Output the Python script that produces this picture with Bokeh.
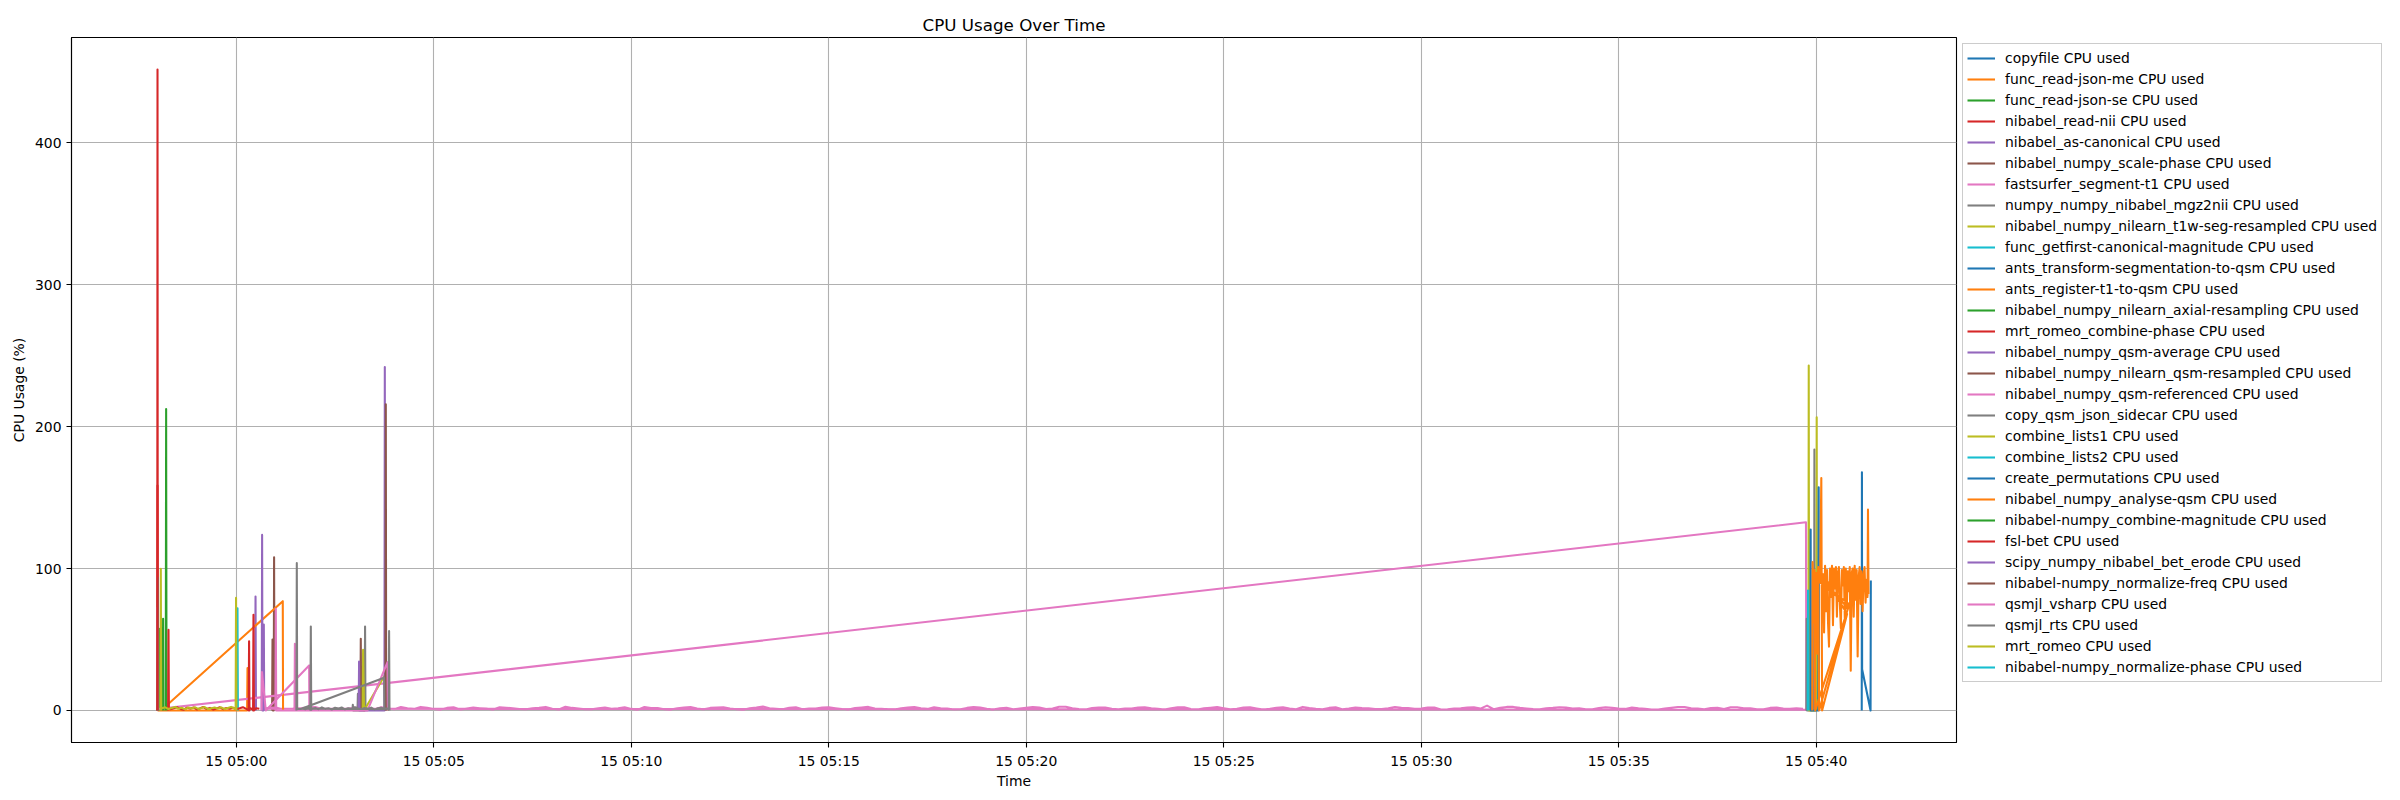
import pandas as pd
from bokeh.plotting import figure
from bokeh.models import (ColumnDataSource, Range1d, Legend, LegendItem, FixedTicker,
                          DatetimeTickFormatter)
from bokeh.palettes import Category10_10
from bokeh.embed import file_html
from bokeh.resources import INLINE

DAY = "2024-05-15"
TITLE = "CPU Usage Over Time"
X_LABEL = "Time"
Y_LABEL = "CPU Usage (%)"
X_TICKS = ["05:00", "05:05", "05:10", "05:15", "05:20", "05:25", "05:30", "05:35", "05:40"]
Y_TICKS = [0, 100, 200, 300, 400]

# ---------------- data (time of sample, CPU %) ----------------
copyfile_t = ["04:58:00.0", "04:58:00.5", "04:58:01.0"]
copyfile_v = [0, 3, 0]

read_json_me_t = ["04:58:00.1", "04:58:00.7", "04:58:01.3", "05:00:16.4", "05:00:17.0", "05:00:17.6"]
read_json_me_v = [0, 84.5, 0, 0, 29.8, 0]

read_json_se_t = ["04:58:02.0", "04:58:02.7", "04:58:03.4"]
read_json_se_v = [0, 57.5, 0]

read_nii_t = ["04:57:59.9", "04:58:00.3", "04:58:00.9"]
read_nii_v = [0, 158.5, 0]

as_canonical_t = ["05:00:28.5", "05:00:29.2", "05:00:29.9"]
as_canonical_v = [0, 80.3, 0]

scale_phase_t = ["05:00:54.4", "05:00:55.0", "05:00:55.6", "05:00:56.8", "05:00:57.4", "05:00:58.0"]
scale_phase_v = [0, 50, 0, 0, 108, 0]

fastsurfer_head_t = ["04:57:59.8", "04:58:00.6", "05:39:44.5", "05:39:45.0"]
fastsurfer_head_v = [72.8, 1.0, 132.6, 0.5]
fastsurfer_noise_start = "05:00:40"
fastsurfer_noise_step = 10
fastsurfer_noise_v = [
    1.2, 1.8, 2.1, 0.9, 0.8, 1.5, 1.7, 2.3, 2.4, 1.0,
    1.1, 0.5, 0.6, 1.4, 1.9, 2.2, 1.4, 0.8, 2.2, 1.6,
    0.9, 2.4, 1.6, 1.1, 2.5, 1.9, 1.0, 0.6, 1.8, 2.3,
    0.7, 1.3, 2.0, 1.6, 1.3, 0.7, 2.3, 1.9, 1.5, 1.0,
    0.8, 1.6, 1.9, 2.5, 1.2, 0.7, 2.6, 1.8, 1.4, 0.9,
    0.9, 1.5, 2.1, 1.2, 1.6, 2.2, 1.1, 0.6, 2.4, 1.7,
    1.7, 0.9, 0.6, 1.5, 2.0, 2.4, 1.3, 0.8, 1.8, 2.1,
    2.2, 1.4, 0.9, 0.5, 1.5, 2.0, 2.7, 1.6, 1.2, 0.8,
    1.9, 2.3, 0.8, 1.3, 1.4, 2.0, 2.3, 1.6, 1.0, 0.6,
    1.7, 2.1, 2.5, 1.4, 1.1, 0.8, 0.7, 1.5, 2.0, 2.4,
    1.6, 1.1, 2.2, 1.5, 1.3, 0.7, 0.9, 1.8, 2.4, 2.0,
    1.2, 0.6, 1.5, 1.9, 0.8, 1.3, 1.8, 2.4, 2.1, 1.0,
    1.4, 2.6, 2.6, 1.5, 1.0, 0.7, 1.7, 2.1, 2.0, 1.2,
    0.9, 1.4, 1.3, 2.0, 2.3, 1.6, 1.1, 0.6, 1.6, 2.2,
    2.2, 1.0, 0.7, 1.5, 1.9, 2.4, 1.6, 0.9, 1.1, 2.0,
    2.2, 1.4, 0.7, 1.1, 1.9, 2.3, 1.4, 0.8, 2.5, 1.7,
    1.2, 0.9, 1.8, 2.2, 0.9, 1.4, 2.1, 1.7, 1.5, 1.0,
    1.0, 1.6, 2.4, 1.9, 1.7, 1.2, 1.3, 2.0, 2.0, 0.7,
    0.8, 1.4, 1.6, 2.1, 2.2, 1.3, 3.4, 0.9, 1.9, 2.5,
    2.5, 1.8, 1.4, 1.0, 0.9, 1.6, 1.8, 2.3, 2.0, 1.4,
    1.5, 0.9, 0.8, 1.7, 2.3, 1.9, 1.4, 1.1, 2.1, 1.5,
    1.1, 0.7, 0.7, 1.3, 1.9, 2.4, 2.4, 1.5, 1.3, 0.8,
    1.7, 1.9, 1.0, 2.2, 2.2, 1.6, 1.5, 0.9, 0.9, 1.8,
    2.0, 1.3, 1.2, 1.6, 1.1]

mgz2nii_t = ["05:39:45.1", "05:39:45.6", "05:39:46.1", "05:39:56.8", "05:39:57.3", "05:39:57.8"]
mgz2nii_v = [0, 64.6, 0, 0, 183.8, 0]

t1w_seg_t = ["05:39:48.2", "05:39:48.7", "05:39:49.2", "05:40:00.3", "05:40:00.8", "05:40:01.3"]
t1w_seg_v = [0, 243, 0, 0, 206.6, 0]

getfirst_mag_t = ["04:58:00.3", "04:58:00.8", "04:58:01.3"]
getfirst_mag_v = [0, 93.4, 0]

ants_transform_t = ["05:39:51.1", "05:39:51.6", "05:39:52.1", "05:40:03.3", "05:40:03.8", "05:40:04.3"]
ants_transform_v = [0, 127.5, 0, 0, 157.3, 0]

ants_register_t = ["04:58:16.0", "04:58:17.0", "05:01:10.6", "05:01:11.0"]
ants_register_v = [0, 4.7, 77, 0]

axial_resampling_t = ["04:58:08.2", "04:58:08.8", "04:58:09.4"]
axial_resampling_v = [0, 64.6, 0]

romeo_combine_phase_t = ["04:57:59.9", "04:58:00.3", "04:58:00.7"]
romeo_combine_phase_v = [0, 451.6, 0]

qsm_average_t = ["05:00:38.6", "05:00:39.2", "05:00:39.8", "05:00:41.2", "05:00:41.8", "05:00:42.4"]
qsm_average_v = [0, 123.7, 0, 0, 60.6, 0]

qsm_resampled_t = ["05:03:08.5", "05:03:09.1", "05:03:09.7"]
qsm_resampled_v = [0, 50.5, 0]

qsm_referenced_t = ["05:00:38.4", "05:00:39.0", "05:00:44.8", "05:01:50.6", "05:01:51.0"]
qsm_referenced_v = [0, 27, 0, 31.7, 0]

copy_sidecar_t = ["05:02:56.4", "05:02:57.0", "05:02:57.6", "05:03:04.1", "05:03:04.7",
                  "05:03:05.3", "05:03:15.0", "05:03:15.6", "05:03:16.2"]
copy_sidecar_v = [0, 4, 0, 0, 11.7, 0, 0, 59.2, 0]

combine_lists1_t = ["05:03:12.0", "05:03:12.6", "05:03:14.0", "05:03:49.7", "05:03:50.2"]
combine_lists1_v = [0, 42.7, 0, 28, 0]

combine_lists2_t = ["05:00:01.2", "05:00:01.8", "05:00:02.4"]
combine_lists2_v = [0, 72, 0]

create_perm_t = ["05:41:09.2", "05:41:09.5", "05:41:09.8", "05:41:22.6", "05:41:23.0"]
create_perm_v = [0, 167.8, 29, 0, 91.5]

analyse_qsm_t = [
    "05:39:54.0", "05:39:54.6", "05:39:56.0", "05:39:57.5", "05:39:58.5", "05:40:48.5",
    "05:40:00.0", "05:40:01.5", "05:40:03.0", "05:40:04.5", "05:40:50.0", "05:40:06.0",
    "05:40:07.8", "05:40:09.0", "05:40:47.0", "05:40:10.5", "05:40:12.0", "05:40:13.5",
    "05:40:15.0", "05:40:16.5", "05:40:18.0", "05:40:19.5", "05:40:21.0", "05:40:22.5",
    "05:40:24.0", "05:40:25.5", "05:40:27.0", "05:40:28.5", "05:40:30.0", "05:40:31.5",
    "05:40:33.0", "05:40:34.5", "05:40:36.0", "05:40:37.5", "05:40:39.0", "05:40:40.5",
    "05:40:42.0", "05:40:43.5", "05:40:45.0", "05:40:46.5", "05:40:48.0", "05:40:49.5",
    "05:40:51.0", "05:40:52.5", "05:40:54.0", "05:40:55.5", "05:40:57.0", "05:40:58.5",
    "05:41:00.0", "05:41:01.5", "05:41:03.0", "05:41:04.5", "05:41:06.0", "05:41:07.5",
    "05:41:09.0", "05:41:10.5", "05:41:12.0", "05:41:13.5", "05:41:15.0", "05:41:16.5",
    "05:41:18.0", "05:41:18.7", "05:41:19.5"]
analyse_qsm_v = [
    0, 104.5, 62, 99, 0, 72,
    97, 40, 101, 0, 75, 90,
    163.8, 0, 68, 96, 55, 102,
    70, 99, 62, 45, 100, 80,
    102, 60, 100, 86, 101, 66,
    97, 101, 75, 58, 99, 88,
    101, 63, 100, 72, 98, 84,
    101, 28, 97, 100, 66, 102,
    78, 99, 38, 94, 101, 75,
    98, 70, 95, 101, 76, 92,
    80, 141.5, 82]

combine_magnitude_t = ["04:58:12.8", "04:58:13.4", "04:58:14.0"]
combine_magnitude_v = [0, 212.4, 0]

fsl_bet_t = ["04:58:16.4", "04:58:17.0", "04:58:17.6", "05:00:18.8", "05:00:19.4", "05:00:20.0",
             "05:00:25.5", "05:00:26.1", "05:00:26.7"]
fsl_bet_v = [0, 56.8, 1, 0, 48.8, 0, 0, 67.4, 0]
fsl_bet_noise_start = "04:58:20"
fsl_bet_noise_step = 5
fsl_bet_noise_v = [0.8, 1.6, 2.3, 1.1, 0.5, 1.9, 1.3, 2.1, 0.7, 1.5, 2.4, 1.0, 1.8, 0.6,
                   1.4, 2.2, 0.9, 1.7, 1.2, 2.0, 0.8, 1.5, 2.3, 1.1, 1.9, 0.7, 1.6, 1.2]

bet_erode_t = ["05:03:05.9", "05:03:06.5", "05:03:07.1", "05:03:45.0", "05:03:45.6", "05:03:46.2"]
bet_erode_v = [0, 34.5, 0, 0, 242, 0]

normalize_freq_t = ["05:03:46.5", "05:03:47.1", "05:03:47.7"]
normalize_freq_v = [0, 215.7, 0]

vsharp_t = ["05:00:59.4", "05:01:00.0", "05:01:00.6", "05:01:28.4", "05:01:29.0", "05:01:29.6",
            "05:03:19.3", "05:03:49.7", "05:03:50.2"]
vsharp_v = [0, 71.6, 0, 0, 47, 0, 0, 34, 0]

rts_head_t = ["05:01:31.3", "05:01:31.9", "05:01:32.5", "05:01:38.0", "05:03:44.5", "05:03:45.0"]
rts_head_v = [0, 103.8, 1.2, 1.0, 23, 0.8]
rts_t = ["05:01:52.6", "05:01:53.2", "05:01:53.8", "05:03:51.5", "05:03:52.1", "05:03:52.7"]
rts_v = [0.5, 59.2, 0.5, 0.5, 56, 0]
rts_noise_start = "05:01:40"
rts_noise_step = 5
rts_noise_v = [1.4, 0.8, 2.0, 1.2, 1.7, 0.9, 2.2, 1.1, 1.5, 0.7, 1.9, 1.3, 2.1, 0.8,
               1.6, 1.0, 2.3, 1.4, 0.9, 1.8, 1.2, 2.0, 0.6, 1.5, 1.9, 1.1, 1.4]

romeo_t = ["04:58:04.7", "04:58:05.3", "04:58:05.9", "04:59:59.0", "04:59:59.6", "05:00:00.2"]
romeo_v = [0, 99.8, 1, 1, 79.3, 0]
romeo_noise_start = "04:58:07"
romeo_noise_step = 5
romeo_noise_v = [1.5, 2.2, 1.0, 1.8, 2.5, 1.2, 1.9, 0.8, 2.1, 1.4, 2.3, 1.1, 1.7, 2.4,
                 0.9, 1.6, 2.0, 1.3, 2.2, 1.0, 1.8, 2.5, 1.4]

normalize_phase_t = ["05:39:47.1", "05:39:47.6", "05:39:48.1"]
normalize_phase_v = [0, 84.5, 0]

# ---------------- helpers ----------------
EPOCH = pd.Timestamp("1970-01-01")


def to_ms(t):
    return (t - EPOCH) / pd.Timedelta(milliseconds=1)


def stamp(s):
    return pd.Timestamp(f"{DAY} {s}")


def build(body_t=(), body_v=(), head_t=(), head_v=(), noise=None):
    head = [(stamp(t), v) for t, v in zip(head_t, head_v)]
    body = [(stamp(t), v) for t, v in zip(body_t, body_v)]
    if noise is not None:
        start, step, vals = noise
        t0 = stamp(start)
        body += [(t0 + pd.Timedelta(seconds=step * i), v) for i, v in enumerate(vals)]
    body.sort(key=lambda p: p[0])
    pts = head + body
    return [to_ms(t) for t, _ in pts], [v for _, v in pts]


series = [
    ("copyfile", build(copyfile_t, copyfile_v)),
    ("func_read-json-me", build(read_json_me_t, read_json_me_v)),
    ("func_read-json-se", build(read_json_se_t, read_json_se_v)),
    ("nibabel_read-nii", build(read_nii_t, read_nii_v)),
    ("nibabel_as-canonical", build(as_canonical_t, as_canonical_v)),
    ("nibabel_numpy_scale-phase", build(scale_phase_t, scale_phase_v)),
    ("fastsurfer_segment-t1", build(head_t=fastsurfer_head_t, head_v=fastsurfer_head_v,
                                    noise=(fastsurfer_noise_start, fastsurfer_noise_step, fastsurfer_noise_v))),
    ("numpy_numpy_nibabel_mgz2nii", build(mgz2nii_t, mgz2nii_v)),
    ("nibabel_numpy_nilearn_t1w-seg-resampled", build(t1w_seg_t, t1w_seg_v)),
    ("func_getfirst-canonical-magnitude", build(getfirst_mag_t, getfirst_mag_v)),
    ("ants_transform-segmentation-to-qsm", build(ants_transform_t, ants_transform_v)),
    ("ants_register-t1-to-qsm", build(ants_register_t, ants_register_v)),
    ("nibabel_numpy_nilearn_axial-resampling", build(axial_resampling_t, axial_resampling_v)),
    ("mrt_romeo_combine-phase", build(romeo_combine_phase_t, romeo_combine_phase_v)),
    ("nibabel_numpy_qsm-average", build(qsm_average_t, qsm_average_v)),
    ("nibabel_numpy_nilearn_qsm-resampled", build(qsm_resampled_t, qsm_resampled_v)),
    ("nibabel_numpy_qsm-referenced", build(qsm_referenced_t, qsm_referenced_v)),
    ("copy_qsm_json_sidecar", build(copy_sidecar_t, copy_sidecar_v)),
    ("combine_lists1", build(combine_lists1_t, combine_lists1_v)),
    ("combine_lists2", build(combine_lists2_t, combine_lists2_v)),
    ("create_permutations", build(create_perm_t, create_perm_v)),
    ("nibabel_numpy_analyse-qsm", build(head_t=analyse_qsm_t, head_v=analyse_qsm_v)),
    ("nibabel-numpy_combine-magnitude", build(combine_magnitude_t, combine_magnitude_v)),
    ("fsl-bet", build(fsl_bet_t, fsl_bet_v, noise=(fsl_bet_noise_start, fsl_bet_noise_step, fsl_bet_noise_v))),
    ("scipy_numpy_nibabel_bet_erode", build(bet_erode_t, bet_erode_v)),
    ("nibabel-numpy_normalize-freq", build(normalize_freq_t, normalize_freq_v)),
    ("qsmjl_vsharp", build(vsharp_t, vsharp_v)),
    ("qsmjl_rts", build(rts_t, rts_v, head_t=rts_head_t, head_v=rts_head_v,
                        noise=(rts_noise_start, rts_noise_step, rts_noise_v))),
    ("mrt_romeo", build(romeo_t, romeo_v, noise=(romeo_noise_start, romeo_noise_step, romeo_noise_v))),
    ("nibabel-numpy_normalize-phase", build(normalize_phase_t, normalize_phase_v)),
]

# ---------------- ranges (5% padding like matplotlib) ----------------
all_x = [x for _, (xs, _) in series for x in xs]
all_y = [y for _, (_, ys) in series for y in ys]
xmin, xmax = min(all_x), max(all_x)
ymin, ymax = min(all_y), max(all_y)
xpad = 0.05 * (xmax - xmin)
ypad = 0.05 * (ymax - ymin)

FONT = "DejaVu Sans"

p = figure(frame_width=1885, frame_height=705, x_axis_type="datetime",
           x_range=Range1d(xmin - xpad, xmax + xpad),
           y_range=Range1d(ymin - ypad, ymax + ypad),
           output_backend="svg", toolbar_location=None,
           min_border_left=71, min_border_right=0, min_border_top=37, min_border_bottom=50,
           title=TITLE)

p.title.align = "center"
p.title.text_font = FONT
p.title.text_font_size = "16.7px"
p.title.text_font_style = "normal"
p.title.text_color = "black"
p.title.standoff = 6

p.background_fill_color = "white"
p.border_fill_color = "white"
p.outline_line_color = "black"
p.outline_line_width = 1.1
p.outline_line_alpha = 1.0

for ax in (p.xaxis[0], p.yaxis[0]):
    ax.axis_line_color = "black"
    ax.axis_line_width = 1.1
    ax.major_tick_line_color = "black"
    ax.major_tick_line_width = 1.1
    ax.major_tick_out = 5
    ax.major_tick_in = 0
    ax.minor_tick_line_color = None
    ax.major_label_text_font = FONT
    ax.major_label_text_font_size = "13.9px"
    ax.major_label_text_color = "black"
    ax.major_label_standoff = 5
    ax.axis_label_text_font = FONT
    ax.axis_label_text_font_size = "13.9px"
    ax.axis_label_text_font_style = "normal"
    ax.axis_label_text_color = "black"

p.xaxis.axis_label = X_LABEL
p.yaxis.axis_label = Y_LABEL
p.xaxis.axis_label_standoff = 1
p.yaxis.axis_label_standoff = 5

x_tick_ms = [to_ms(stamp(s + ":00")) for s in X_TICKS]
p.xaxis.ticker = FixedTicker(ticks=x_tick_ms)
fmt = "%d %H:%M"
p.xaxis.formatter = DatetimeTickFormatter(seconds=fmt, minsec=fmt, minutes=fmt, hourmin=fmt,
                                          hours=fmt, days=fmt, context=None)
p.yaxis.ticker = FixedTicker(ticks=Y_TICKS)

for g in (p.xgrid[0], p.ygrid[0]):
    g.grid_line_color = "#b0b0b0"
    g.grid_line_width = 1.1
p.xgrid.ticker = p.xaxis.ticker
p.ygrid.ticker = p.yaxis.ticker

items = []
for i, (name, (xs, ys)) in enumerate(series):
    src = ColumnDataSource(dict(x=xs, y=ys))
    r = p.line("x", "y", source=src, line_color=Category10_10[i % 10], line_width=2.08,
               line_join="round")
    items.append(LegendItem(label=name + " CPU used", renderers=[r]))

legend = Legend(items=items, location="top_left", margin=6, padding=4, spacing=1,
                glyph_width=28, glyph_height=20, label_height=20, label_standoff=10,
                label_text_font=FONT, label_text_font_size="13.9px", label_text_color="black",
                border_line_color="#cccccc", border_line_width=1.1, border_line_alpha=1.0,
                background_fill_color="white", background_fill_alpha=0.8)
p.add_layout(legend, "right")

open("out.html", "w").write(file_html(p, INLINE))
